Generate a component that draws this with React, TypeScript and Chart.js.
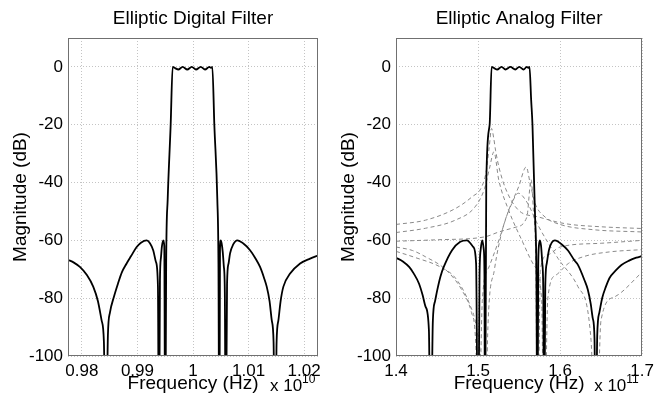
import React, { useEffect, useRef } from 'react';
import { Chart, registerables } from 'chart.js';
Chart.register(...registerables);

const FONT = '"Liberation Sans", Arial, Helvetica, sans-serif';

// ---------- Digital filter (frequency in units of 1e10 Hz) ----------
const digitalTicksX = [0.98, 0.99, 1, 1.01, 1.02];
const digitalFreq = [
  0.97748, 0.97856, 0.97964, 0.9809, 0.98204, 0.98288, 0.98355, 0.98396, 0.98432, 0.98468,
  0.98505, 0.98577, 0.98649, 0.98721, 0.98805, 0.98883, 0.98986, 0.99063, 0.99166, 0.99225,
  0.99285, 0.99333, 0.99369, 0.99387, 0.99405, 0.99423, 0.99441, 0.99465, 0.99483, 0.995,
  0.99517, 0.99544, 0.99598, 0.99634, 0.99676, 0.99735, 0.99814, 0.99897, 0.99977, 1.00054,
  1.00139, 1.00216, 1.00294, 1.00324, 1.00348, 1.00384, 1.00438, 1.00458, 1.00474, 1.00486,
  1.00499, 1.00515, 1.00535, 1.00555, 1.00573, 1.00589, 1.00613, 1.0064, 1.00667, 1.00721,
  1.00798, 1.00901, 1.01027, 1.01117, 1.01207, 1.01279, 1.01328, 1.01378, 1.01418, 1.0145,
  1.01477, 1.01505, 1.01537, 1.01577, 1.01627, 1.01748, 1.01928, 1.02108, 1.02258,
];
const digitalMag = [
  -66.7, -67.7, -69.2, -72, -76, -81, -87.7, -95, -140, -93,
  -85, -79.5, -75, -71, -68, -65.5, -62.3, -60.8, -60, -61,
  -63.5, -67.5, -76, -140, -74, -66, -62, -60, -62, -140,
  -68, -46, -20, 0, -0.4, -0.9, 0, -0.9, 0, -0.9,
  0, -0.9, 0, -0.3, 0, -20, -46, -68, -140, -63,
  -60, -61, -64, -69, -78, -140, -75, -68, -64.5, -61.5,
  -60, -61, -63.4, -66, -69.2, -73, -76.1, -81, -87.7, -95,
  -140, -95, -87.7, -81, -76, -71.5, -68, -66.3, -65.2,
];

// ---------- Analog filter (frequency in units of 1e11 Hz) ----------
const analogTicksX = [1.4, 1.5, 1.6, 1.7];
const analogFreq = [
  1.4, 1.4084, 1.416, 1.4217, 1.4281, 1.4325, 1.4361, 1.4401, 1.4422, 1.4449,
  1.4476, 1.4502, 1.4542, 1.4582, 1.4683, 1.4783, 1.4864, 1.4943, 1.4976, 1.5,
  1.5018, 1.5033, 1.5052, 1.5069, 1.5078, 1.5084, 1.51, 1.5141, 1.5165, 1.5195,
  1.5233, 1.5286, 1.5334, 1.5394, 1.5454, 1.5502, 1.5554, 1.5594, 1.5612, 1.5627,
  1.5647, 1.5663, 1.5695, 1.5711, 1.5723, 1.5733, 1.5741, 1.5753, 1.5768, 1.5783,
  1.5795, 1.5804, 1.5819, 1.5837, 1.5867, 1.5936, 1.6024, 1.6096, 1.6176, 1.6217,
  1.6297, 1.6337, 1.6373, 1.6398, 1.6419, 1.6434, 1.6452, 1.6478, 1.6512, 1.6558,
  1.6602, 1.6678, 1.6747, 1.684, 1.6928, 1.7,
];
const analogMag = [
  -66, -67.3, -69.2, -71.5, -75, -79, -83, -91, -140, -88,
  -81, -77.3, -72.5, -69.2, -63.4, -60.5, -60, -62.3, -68, -140,
  -72, -63, -60, -63, -72, -140, -40, -20, 0, -0.4,
  -0.9, 0, -0.9, 0, -0.9, 0, -0.9, 0, -0.3, 0,
  -11.4, -20, -52, -72, -140, -70, -62, -60, -62, -68,
  -78, -140, -76, -68, -63, -60, -61.5, -63.5, -67, -68.5,
  -73.8, -77, -82, -87, -94, -140, -93, -85, -80, -76,
  -73, -70.4, -68.5, -67, -66, -65.4,
];

// dashed section responses
const sec1Freq = [1.4, 1.4361, 1.4723, 1.4924, 1.5044, 1.51, 1.5135, 1.5165, 1.519, 1.5213, 1.5253, 1.5334, 1.5494, 1.5735, 1.6057, 1.65, 1.7];
const sec1Mag = [-54.5, -53, -49, -45, -41.5, -36, -28, -21.3, -24.5, -28.8, -34.5, -42, -49.6, -51.9, -54.2, -55.3, -55.9];

const sec2Freq = [1.4, 1.4361, 1.4723, 1.4964, 1.508, 1.514, 1.5193, 1.5253, 1.5373, 1.5534, 1.5695, 1.5775, 1.5804, 1.585, 1.595, 1.61, 1.63, 1.66, 1.7];
const sec2Mag = [-57.3, -55.8, -53, -48.4, -42, -35, -29.4, -39.2, -49.6, -60, -69.2, -80.8, -140, -80, -72, -68, -65.5, -64, -63.2];

const sec3Freq = [1.4, 1.45, 1.508, 1.5253, 1.545, 1.5594, 1.5647, 1.5675, 1.5705, 1.5723, 1.576, 1.585, 1.6, 1.65, 1.7];
const sec3Mag = [-60.3, -59.8, -58.8, -57.1, -55.5, -52, -39, -50, -70, -140, -70, -65, -62.3, -61, -60];

const sec4Freq = [1.4, 1.42, 1.4361, 1.46, 1.4805, 1.492, 1.4975, 1.5, 1.5052, 1.5133, 1.5253, 1.5373, 1.5494, 1.5587, 1.5635, 1.5695, 1.5816, 1.6, 1.64, 1.7];
const sec4Mag = [-62.3, -63.5, -65.7, -70, -77.3, -85, -98, -140, -80.8, -69.2, -60, -49.6, -41.5, -34.6, -40.3, -47.2, -51.9, -54.5, -56.3, -57.1];

const sec5Freq = [1.4, 1.4241, 1.454, 1.4723, 1.4896, 1.498, 1.504, 1.508, 1.512, 1.52, 1.53, 1.54, 1.549, 1.56, 1.5735, 1.5976, 1.6217, 1.6377, 1.6434, 1.6498, 1.6659, 1.7];
const sec5Mag = [-63.8, -66, -69.2, -73, -82, -90, -105, -140, -90, -70, -56, -48, -43.7, -47, -55, -66.3, -76, -94.6, -140, -87.7, -79.6, -71];

const yTicks = [-100, -80, -60, -40, -20, 0];

const framePlugin = {
  id: 'frame',
  afterDraw(chart: any, _args: any, opts: any) {
    const { ctx, chartArea: a } = chart;
    ctx.save();
    ctx.strokeStyle = '#707070';
    ctx.lineWidth = 1;
    ctx.strokeRect(Math.round(a.left) + 0.5, Math.round(a.top) + 0.5, Math.round(a.right - a.left) - 1, Math.round(a.bottom - a.top) - 1);
    ctx.fillStyle = '#000';
    ctx.textBaseline = 'alphabetic';
    ctx.textAlign = 'center';
    ctx.font = '19px ' + FONT;
    const cx = (a.left + a.right) / 2;
    ctx.fillText(opts.title, cx, 24);
    ctx.fillText('Frequency (Hz)', cx, 389);
    ctx.save();
    ctx.translate(a.left - 42, (a.top + a.bottom) / 2);
    ctx.rotate(-Math.PI / 2);
    ctx.fillText('Magnitude (dB)', 0, 0);
    ctx.restore();
    ctx.textAlign = 'left';
    ctx.font = '17px ' + FONT;
    ctx.fillText('x 10', a.right - 48, 391);
    ctx.font = '12px ' + FONT;
    ctx.fillText(opts.exp, a.right - 16, 383);
    ctx.restore();
  },
};

function toPoints(xs: number[], ys: number[]) {
  return xs.map((x, i) => ({ x, y: ys[i] }));
}

function solid(xs: number[], ys: number[]) {
  return {
    data: toPoints(xs, ys),
    borderColor: '#000',
    borderWidth: 1.8,
    pointRadius: 0,
    cubicInterpolationMode: 'monotone' as const,
    clip: 0,
    order: 0,
  };
}

function dashed(xs: number[], ys: number[]) {
  return {
    data: toPoints(xs, ys),
    borderColor: '#8a8a8a',
    borderWidth: 1,
    borderDash: [4, 3],
    pointRadius: 0,
    cubicInterpolationMode: 'monotone' as const,
    clip: 0,
    order: 1,
  };
}

function Panel(props: {
  left: number; width: number; yWidth: number; padRight: number;
  xMin: number; xMax: number; xTicks: number[]; datasets: any[]; title: string; exp: string;
}) {
  const ref = useRef<HTMLCanvasElement | null>(null);
  useEffect(() => {
    const gridColor = '#c4c4c4';
    const chart = new Chart(ref.current as HTMLCanvasElement, {
      type: 'line',
      data: { datasets: props.datasets },
      plugins: [framePlugin],
      options: {
        responsive: false,
        maintainAspectRatio: false,
        animation: false,
        devicePixelRatio: 1,
        layout: { padding: { top: 38, right: props.padRight, left: 0, bottom: 0 } },
        plugins: {
          legend: { display: false },
          tooltip: { enabled: false },
          title: { display: false },
          frame: { title: props.title, exp: props.exp },
        } as any,
        scales: {
          x: {
            type: 'linear',
            min: props.xMin,
            max: props.xMax,
            afterBuildTicks: (axis: any) => { axis.ticks = props.xTicks.map((v) => ({ value: v })); },
            afterFit: (axis: any) => { axis.height = 54; },
            grid: { color: gridColor, lineWidth: 1, drawTicks: false },
            border: { display: false, dash: [1, 2] },
            ticks: {
              color: '#000',
              font: { family: FONT, size: 17 },
              padding: 5,
              maxRotation: 0,
              autoSkip: false,
              callback: (v: any) => String(v),
            },
          },
          y: {
            type: 'linear',
            min: -100,
            max: 10,
            afterBuildTicks: (axis: any) => { axis.ticks = yTicks.map((v) => ({ value: v })); },
            afterFit: (axis: any) => { axis.width = props.yWidth; },
            grid: { color: gridColor, lineWidth: 1, drawTicks: false },
            border: { display: false, dash: [1, 2] },
            ticks: {
              color: '#000',
              font: { family: FONT, size: 17 },
              padding: 5,
              autoSkip: false,
              callback: (v: any) => String(v),
            },
          },
        },
      } as any,
    });
    return () => chart.destroy();
  }, []);
  return (
    <canvas
      ref={ref}
      width={props.width}
      height={410}
      style={{ position: 'absolute', left: props.left, top: 0, width: props.width, height: 410, display: 'block' }}
    />
  );
}

export default function App() {
  const digitalSets = [solid(digitalFreq, digitalMag)];
  const analogSets = [
    solid(analogFreq, analogMag),
    dashed(sec1Freq, sec1Mag),
    dashed(sec2Freq, sec2Mag),
    dashed(sec3Freq, sec3Mag),
    dashed(sec4Freq, sec4Mag),
    dashed(sec5Freq, sec5Mag),
  ];
  return (
    <div style={{ position: 'fixed', left: 0, top: 0, width: 659, height: 410, background: '#fff', overflow: 'hidden' }}>
      <Panel left={0} width={330} yWidth={68} padRight={12} xMin={0.9775} xMax={1.0225}
        xTicks={digitalTicksX} datasets={digitalSets} title="Elliptic Digital Filter" exp="10" />
      <Panel left={330} width={329} yWidth={66} padRight={13} xMin={1.4} xMax={1.7}
        xTicks={analogTicksX} datasets={analogSets} title="Elliptic Analog Filter" exp="11" />
    </div>
  );
}
